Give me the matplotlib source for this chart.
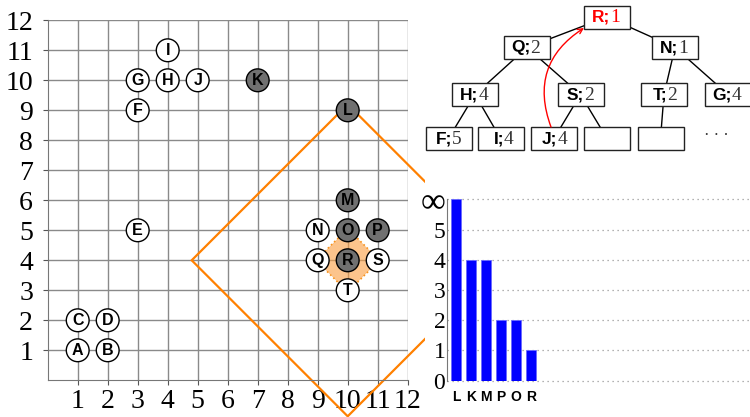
import numpy as np
import matplotlib
matplotlib.use("Agg")
import matplotlib.pyplot as plt
from matplotlib.patches import Circle, Rectangle, RegularPolygon, Polygon, FancyArrowPatch

# --- data ---
white_names = ['A', 'B', 'C', 'D', 'E', 'F', 'G', 'H', 'I', 'J', 'N', 'Q', 'S', 'T']
white_x = [1, 2, 1, 2, 3, 3, 3, 4, 4, 5, 9, 9, 11, 10]
white_y = [1, 1, 2, 2, 5, 9, 10, 10, 11, 10, 5, 4, 4, 3]
gray_names = ['K', 'L', 'M', 'O', 'P', 'R']
gray_x = [7, 10, 10, 10, 11, 10]
gray_y = [10, 9, 6, 5, 5, 4]
query = (10, 4)
diamond_r = 5.2

bar_names = ['L', 'K', 'M', 'P', 'O', 'R']
bar_values = [6, 4, 4, 2, 2, 1]        # 6 stands for infinity
bar_ticklabels = ['0', '1', '2', '3', '4', '5', '\u221e']

node_names = ['R', 'Q', 'N', 'H', 'S', 'T', 'G', 'F', 'I', 'J', '', '']
node_vals = ['1', '2', '1', '4', '2', '2', '4', '5', '4', '4', '', '']
tree_edges = [(0, 1), (0, 2), (1, 3), (1, 4), (2, 5), (2, 6),
              (3, 7), (3, 8), (4, 9), (4, 10), (5, 11)]
# node centres in pixels (layout only)
node_xy = [(607, 17), (527, 47.5), (675, 47.5), (475, 94.5), (580.5, 94.5),
           (664, 94.5), (728, 94.5), (448.5, 138.5), (500.5, 138.5),
           (554, 138.5), (607, 138.5), (660.5, 138.5)]

W, H = 750, 417
SERIF = 'Liberation Serif'
SANS = 'Liberation Sans'


def px(x0, y0, x1, y1):
    return [x0 / W, 1 - y1 / H, (x1 - x0) / W, (y1 - y0) / H]


fig = plt.figure(figsize=(7.5, 4.17), dpi=100)

# --- main grid plot ---
ax = fig.add_axes(px(47.7, 20.3, 407.7, 380.3))
ax.set_xlim(0, 12)
ax.set_ylim(0, 12)
ax.set_xticks(range(1, 13))
ax.set_yticks(range(1, 13))
ax.set_xticklabels([str(i) for i in range(1, 13)], family=SERIF, fontsize=20)
ax.set_yticklabels([str(i) for i in range(1, 13)], family=SERIF, fontsize=20)
ax.grid(True, color='#8a8a8a', lw=1)
ax.set_axisbelow(True)
for s in ['top', 'right']:
    ax.spines[s].set_visible(False)
for s in ['left', 'bottom']:
    ax.spines[s].set_color('#777777')
ax.tick_params(length=3.5, color='#555555', pad=7)
ax.tick_params(axis='x', pad=3)

cx, cy = query
diamond = Polygon([(cx - diamond_r, cy), (cx, cy + diamond_r),
                   (cx + diamond_r, cy), (cx, cy - diamond_r)],
                  closed=True, fill=False, ec='#ff8000', lw=1.6,
                  clip_on=False, zorder=2)
ax.add_patch(diamond)

octo = RegularPolygon(query, 8, radius=0.81, orientation=np.pi / 8,
                      fc=(0.98, 0.62, 0.25, 0.6), ec='#f7931e', ls=':', lw=1.2, zorder=2.5)
ax.add_patch(octo)

for n, x, y in zip(white_names, white_x, white_y):
    ax.add_patch(Circle((x, y), 0.38, fc='white', ec='black', lw=1, zorder=3))
    ax.text(x, y, n, ha='center', va='center', fontsize=11.5, weight='bold',
            family=SANS, zorder=4)
for n, x, y in zip(gray_names, gray_x, gray_y):
    ax.add_patch(Circle((x, y), 0.38, fc='#707070', ec='black', lw=1, zorder=3))
    ax.text(x, y, n, ha='center', va='center', fontsize=11.5, weight='bold',
            family=SANS, zorder=4)

# white cover for the right side
fig.add_artist(Rectangle((425 / W, 0), 1 - 425 / W, 1, transform=fig.transFigure,
                         fc='white', ec='none', zorder=1))

# --- bar chart ---
axb = fig.add_axes(px(446.7, 199.3, 750, 380.7), zorder=2)
axb.bar(range(len(bar_values)), bar_values, width=0.73, color='#0000ff',
        ec='#6a6aff', lw=0.6, zorder=3)
axb.set_xlim(-0.62, 19.6)
axb.set_ylim(0, 6)
axb.set_yticks(range(7))
labs = axb.set_yticklabels(bar_ticklabels, family=[SERIF, 'DejaVu Serif'], fontsize=17)
labs[-1].set_fontsize(25)
axb.set_xticks(range(len(bar_names)))
axb.set_xticklabels(bar_names, family=SANS, weight='bold', fontsize=10)
axb.tick_params(length=0, pad=1)
axb.tick_params(axis='x', pad=7)
axb.yaxis.grid(True, ls=(0, (1, 3)), color='#999999', lw=0.9)
for gl in axb.get_ygridlines():
    gl.set_clip_on(False)
for s in ['top', 'right', 'bottom']:
    axb.spines[s].set_visible(False)
axb.spines['left'].set_color('#777777')
axb.patch.set_alpha(0)

# --- tree ---
axt = fig.add_axes([0, 0, 1, 1], zorder=3)
axt.set_xlim(0, W)
axt.set_ylim(H, 0)
axt.axis('off')
bw, bh = 46, 23
for a, b in tree_edges:
    (x0, y0), (x1, y1) = node_xy[a], node_xy[b]
    axt.plot([x0, x1], [y0, y1], color='black', lw=1, zorder=1)
for i, (x, y) in enumerate(node_xy):
    axt.add_patch(Rectangle((x - bw / 2, y - bh / 2), bw, bh, fc='white',
                            ec='#222222', lw=1, zorder=2))
    col = 'red' if i == 0 else 'black'
    if node_names[i]:
        axt.text(x + 3.5, y, node_names[i] + ';', ha='right', va='center',
                 family=SANS, weight='bold', fontsize=12.5, color=col, zorder=3)
        axt.text(x + 3.5, y + 0.5, node_vals[i], ha='left', va='center',
                 family=SERIF, fontsize=14, color='red' if i == 0 else '#333333', zorder=3)
axt.text(716, 136, '\u00b7 \u00b7 \u00b7', ha='center', va='center', family=SERIF,
         fontsize=12, color='#333333')

arrow = FancyArrowPatch((551, 127), (584, 28), connectionstyle='arc3,rad=-0.4',
                        arrowstyle='->', mutation_scale=9, color='red', lw=1,
                        shrinkA=0, shrinkB=0, zorder=4)
axt.add_patch(arrow)

fig.savefig('out.png', dpi=100)
